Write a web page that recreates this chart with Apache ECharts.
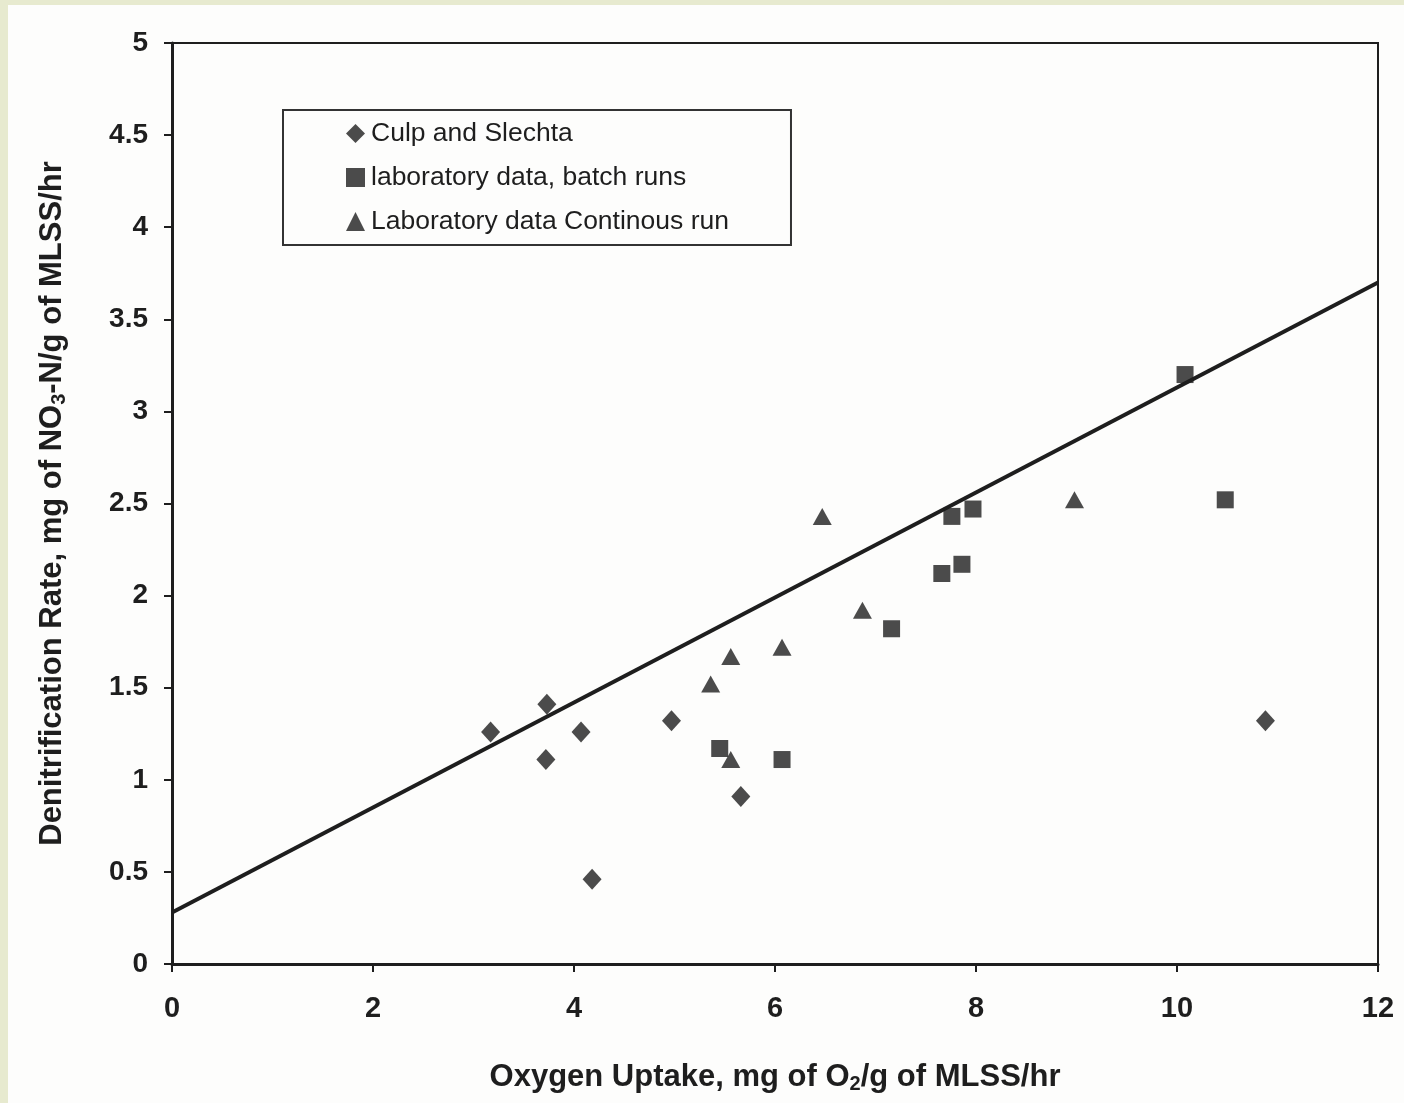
<!DOCTYPE html>
<html><head><meta charset="utf-8">
<script src="https://cdn.jsdelivr.net/npm/echarts@6/dist/echarts.min.js"></script>
<style>
html,body{margin:0;padding:0;background:#e7eacf;width:1404px;height:1103px;overflow:hidden}
#c{position:absolute;left:8px;top:5px;width:1396px;height:1098px;background:#fdfdfc}
</style></head><body><div id="c"></div>
<script>
// Data (x: oxygen uptake, y: denitrification rate)
const culpX = [3.17, 3.73, 3.72, 4.07, 4.18, 4.97, 5.66, 10.88];
const culpY = [1.26, 1.41, 1.11, 1.26, 0.46, 1.32, 0.91, 1.32];
const batchX = [5.45, 6.07, 7.16, 7.66, 7.86, 7.76, 7.97, 10.08, 10.48];
const batchY = [1.17, 1.11, 1.82, 2.12, 2.17, 2.43, 2.47, 3.20, 2.52];
const contX = [5.56, 5.36, 5.56, 6.07, 6.47, 6.87, 8.98];
const contY = [1.11, 1.52, 1.67, 1.72, 2.43, 1.92, 2.52];
const trendX = [0, 12];
const trendY = [0.28, 3.70];
const xTicks = [0, 2, 4, 6, 8, 10, 12];
const yTicks = [0, 0.5, 1, 1.5, 2, 2.5, 3, 3.5, 4, 4.5, 5];
const seriesNames = ['Culp and Slechta', 'laboratory data, batch runs', 'Laboratory data Continous run'];

const zip = (a, b) => a.map((v, i) => [v, b[i]]);
const FONT = '"Liberation Sans",Arial,sans-serif';
const INK = '#1e1e1e';

const chart = echarts.init(document.getElementById('c'), null, {renderer: 'canvas'});
chart.setOption({
  animation: false,
  grid: {left: 164, top: 38, width: 1206, height: 921, show: true, borderColor: INK, borderWidth: 2, backgroundColor: 'transparent'},
  legend: {
    orient: 'vertical', left: 275, top: 105,
    data: seriesNames,
    borderColor: '#333', borderWidth: 2,
    padding: [10, 62, 10, 63],
    itemWidth: 19, itemHeight: 19, itemGap: 17,
    textStyle: {fontFamily: FONT, fontSize: 26.5, color: INK, lineHeight: 26, padding: [0, 0, 0, 1]},
    selectedMode: false
  },
  xAxis: {
    type: 'value', min: 0, max: 12, interval: 2,
    axisLine: {show: true, lineStyle: {color: INK, width: 3}},
    axisTick: {show: true, inside: false, length: 8, lineStyle: {color: INK, width: 2}},
    splitLine: {show: false},
    axisLabel: {margin: 30, fontFamily: FONT, fontWeight: 'bold', fontSize: 29, color: INK,
      formatter: v => xTicks.includes(v) ? String(v) : ''},
    name: '{a|Oxygen Uptake, mg of O}{s|2}{a|/g of MLSS/hr}',
    nameLocation: 'middle', nameGap: 96,
    nameTextStyle: {rich: {
      a: {fontFamily: FONT, fontWeight: 'bold', fontSize: 31, color: INK},
      s: {fontFamily: FONT, fontWeight: 'bold', fontSize: 20, color: INK, verticalAlign: 'bottom', padding: [14, 0, 0, 0]}
    }}
  },
  yAxis: {
    type: 'value', min: 0, max: 5, interval: 0.5,
    axisLine: {show: true, lineStyle: {color: INK, width: 3}},
    axisTick: {show: true, inside: false, length: 8, lineStyle: {color: INK, width: 2}},
    splitLine: {show: false},
    axisLabel: {margin: 24, fontFamily: FONT, fontWeight: 'bold', fontSize: 28, color: INK,
      formatter: v => yTicks.includes(v) ? String(v) : ''},
    name: '{a|Denitrification Rate, mg of NO}{s|3}{a|-N/g of MLSS/hr}',
    nameLocation: 'middle', nameGap: 103, nameRotate: 90,
    nameTextStyle: {rich: {
      a: {fontFamily: FONT, fontWeight: 'bold', fontSize: 31, color: INK},
      s: {fontFamily: FONT, fontWeight: 'bold', fontSize: 20, color: INK, verticalAlign: 'bottom', padding: [14, 0, 0, 0]}
    }}
  },
  series: [
    {type: 'line', data: zip(trendX, trendY), showSymbol: false, symbol: 'none', lineStyle: {color: INK, width: 4}, z: 1, silent: true},
    {name: seriesNames[0], type: 'scatter', data: zip(culpX, culpY), symbol: 'diamond', symbolSize: [19, 21], itemStyle: {color: INK}, z: 3},
    {name: seriesNames[1], type: 'scatter', data: zip(batchX, batchY), symbol: 'rect', symbolSize: 17, itemStyle: {color: INK}, z: 3},
    {name: seriesNames[2], type: 'scatter', data: zip(contX, contY), symbol: 'triangle', symbolSize: [19, 17], itemStyle: {color: INK}, z: 3}
  ]
});
</script></body></html>
